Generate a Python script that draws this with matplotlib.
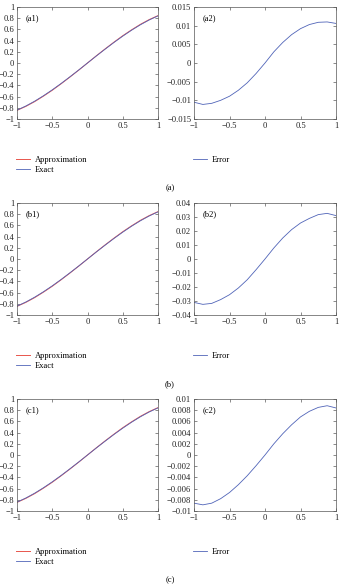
import numpy as np
import matplotlib
matplotlib.use('Agg')
import matplotlib.pyplot as plt

# values
x = [-1, -0.875, -0.75, -0.625, -0.5, -0.375, -0.25, -0.125, 0,
     0.125, 0.25, 0.375, 0.5, 0.625, 0.75, 0.875, 1]

exact = [-0.841, -0.768, -0.682, -0.585, -0.479, -0.366, -0.247, -0.125, 0,
         0.125, 0.247, 0.366, 0.479, 0.585, 0.682, 0.768, 0.841]
approx = [-0.846, -0.775, -0.690, -0.592, -0.487, -0.372, -0.252, -0.128, 0,
          0.128, 0.252, 0.372, 0.487, 0.592, 0.690, 0.775, 0.846]

error_a = [-0.0105, -0.0111, -0.0108, -0.0100, -0.0089, -0.0073, -0.0053, -0.0028, 0,
           0.0030, 0.0055, 0.0076, 0.0092, 0.0103, 0.0109, 0.0110, 0.0106]
error_b = [-0.0310, -0.0324, -0.0317, -0.0290, -0.0255, -0.0207, -0.0148, -0.0076, 0,
           0.0079, 0.0150, 0.0210, 0.0257, 0.0290, 0.0317, 0.0326, 0.0310]
error_c = [-0.0086, -0.0089, -0.0086, -0.0078, -0.0067, -0.0053, -0.0037, -0.0019, 0,
           0.0020, 0.0038, 0.0054, 0.0068, 0.0078, 0.0085, 0.0088, 0.0084]

panels = ['a', 'b', 'c']
errors = [error_a, error_b, error_c]
err_ticks = [
    [-0.015, -0.01, -0.005, 0, 0.005, 0.01, 0.015],
    [-0.04, -0.03, -0.02, -0.01, 0, 0.01, 0.02, 0.03, 0.04],
    [-0.01, -0.008, -0.006, -0.004, -0.002, 0, 0.002, 0.004, 0.006, 0.008, 0.01],
]
left_ticks = [-1, -0.8, -0.6, -0.4, -0.2, 0, 0.2, 0.4, 0.6, 0.8, 1]
x_ticks = [-1, -0.5, 0, 0.5, 1]

plt.rcParams['font.family'] = ['Liberation Serif', 'DejaVu Serif']
plt.rcParams['font.size'] = 6.1

red = '#e8554c'
blue = '#5064b8'

fig = plt.figure(figsize=(3.41, 5.87), dpi=100)

tops = [7, 203, 399]   # pixel top of each row


def fmt(v):
    s = ('%g' % v)
    return s.replace('-', '\u2212')


def style(ax):
    ax.set_xlim(-1, 1)
    ax.set_xticks(x_ticks)
    ax.set_xticklabels([fmt(v) for v in x_ticks])
    ax.tick_params(direction='in', top=True, right=True, length=2, width=0.4, pad=2,
                   colors='#333333', labelcolor='#222222')
    for s in ax.spines.values():
        s.set_linewidth(0.5)
        s.set_color('#555555')


for i, p in enumerate(panels):
    top = tops[i]
    y0 = 1 - (top + 112) / 587
    h = 112 / 587

    ax1 = fig.add_axes([17 / 341, y0, 141 / 341, h])
    l1, = ax1.plot(x, approx, color=red, lw=0.7, label='Approximation')
    l2, = ax1.plot(x, exact, color=blue, lw=0.6, label='Exact')
    ax1.set_ylim(-1, 1)
    ax1.set_yticks(left_ticks)
    ax1.set_yticklabels([fmt(v) for v in left_ticks])
    style(ax1)
    ax1.text(0.06, 0.9, '(%s1)' % p, transform=ax1.transAxes, ha='left', va='center')
    ax1.legend(handles=[l1, l2], loc='upper left', bbox_to_anchor=(-0.01, -0.33),
               frameon=False, borderaxespad=0, borderpad=0, handlelength=1.7,
               handletextpad=0.6, labelspacing=0.25)

    ax2 = fig.add_axes([194 / 341, y0, 142 / 341, h])
    l3, = ax2.plot(x, errors[i], color=blue, lw=0.6, label='Error')
    ax2.set_ylim(err_ticks[i][0], err_ticks[i][-1])
    ax2.set_yticks(err_ticks[i])
    ax2.set_yticklabels([fmt(v) for v in err_ticks[i]])
    style(ax2)
    ax2.text(0.06, 0.9, '(%s2)' % p, transform=ax2.transAxes, ha='left', va='center')
    ax2.legend(handles=[l3], loc='upper left', bbox_to_anchor=(-0.01, -0.33),
               frameon=False, borderaxespad=0, borderpad=0, handlelength=1.7,
               handletextpad=0.6)

    fig.text(170 / 341, 1 - (top + 181) / 587, '(%s)' % p, ha='center', va='center')

fig.savefig('out.png', dpi=100)
